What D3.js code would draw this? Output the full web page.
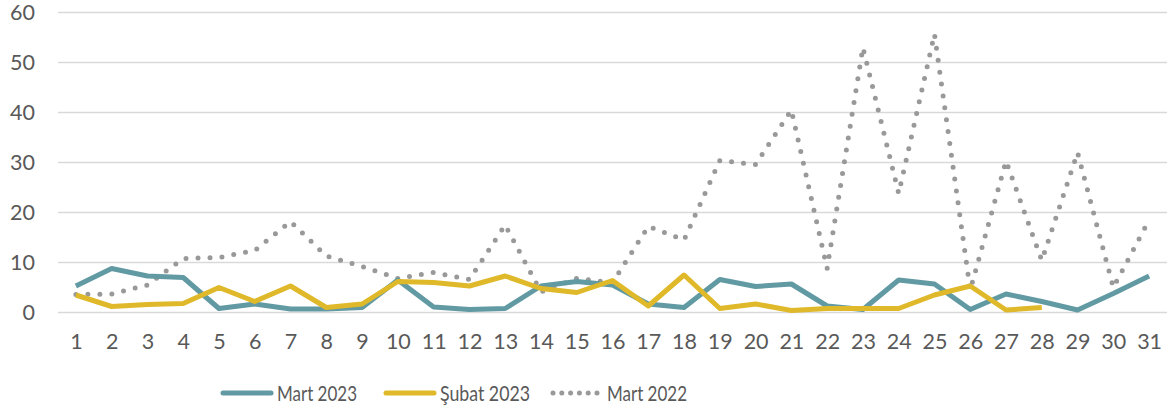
<!DOCTYPE html>
<html>
<head>
<meta charset="utf-8">
<script src="https://cdn.jsdelivr.net/npm/d3@7"></script>
<style>
  body { margin: 0; background: #fff; }
  text { font-family: Lato, "Open Sans", sans-serif; fill: #595959; }
</style>
</head>
<body>
<div id="chart"></div>
<script>
// days of the month
var days = d3.range(1, 32);
var yTicks = [0, 10, 20, 30, 40, 50, 60];

// series values
var mart2023 = [5.3, 8.8, 7.3, 7.0, 0.8, 1.7, 0.7, 0.7, 1.0, 6.5, 1.1, 0.6, 0.8, 5.3, 6.2, 5.5, 1.7, 1.0, 6.6, 5.2, 5.7, 1.3, 0.6, 6.5, 5.7, 0.6, 3.7, 2.2, 0.5, 3.8, 7.3];
var subat2023 = [3.5, 1.2, 1.6, 1.8, 5.0, 2.2, 5.3, 1.0, 1.7, 6.2, 6.0, 5.3, 7.3, 4.8, 4.0, 6.4, 1.3, 7.5, 0.8, 1.7, 0.4, 0.8, 0.8, 0.8, 3.5, 5.3, 0.5, 1.0, null, null, null];
var mart2022 = [3.6, 3.7, 5.5, 10.8, 11.0, 12.4, 18.2, 11.3, 9.2, 6.8, 8.0, 6.6, 17.5, 4.1, 6.8, 6.0, 17.2, 14.5, 30.4, 29.6, 40.5, 8.8, 53.0, 23.8, 55.7, 4.5, 30.3, 10.4, 32.0, 5.0, 18.5];

var seriesNames = ["Mart 2023", "Şubat 2023", "Mart 2022"];

var svgWidth = 1172, svgHeight = 416;
var margin = { top: 12.5, right: 5, bottom: 103.5, left: 58 };
var width = svgWidth - margin.left - margin.right;
var height = svgHeight - margin.top - margin.bottom;

var svg = d3.select("#chart").append("svg")
    .attr("width", svgWidth)
    .attr("height", svgHeight);

var chartGroup = svg.append("g")
    .attr("transform", `translate(${margin.left}, ${margin.top})`);

var x = d3.scalePoint().domain(days).range([0, width]).padding(0.5);
var y = d3.scaleLinear().domain([0, 60]).range([height, 0]);

// gridlines
chartGroup.append("g")
    .selectAll("line")
    .data(yTicks)
    .enter()
    .append("line")
    .attr("x1", 0)
    .attr("x2", width)
    .attr("y1", d => y(d))
    .attr("y2", d => y(d))
    .attr("stroke", "#d9d9d9")
    .attr("stroke-width", 1.3);

// y axis labels
var yAxis = chartGroup.append("g")
    .call(d3.axisLeft(y).tickValues(yTicks).tickSize(0).tickPadding(23));
yAxis.select(".domain").remove();
yAxis.selectAll("text")
    .attr("font-size", 21.5)
    .attr("font-family", null)
    .attr("fill", null);

// x axis labels
var xAxis = chartGroup.append("g")
    .attr("transform", `translate(0, ${height})`)
    .call(d3.axisBottom(x).tickSize(0).tickPadding(21));
xAxis.select(".domain").remove();
xAxis.selectAll("text")
    .attr("font-size", 21.5)
    .attr("font-family", null)
    .attr("fill", null);

var line = d3.line()
    .defined(d => d[1] != null)
    .x(d => x(d[0]))
    .y(d => y(d[1]));

function pairs(values) {
    return days.map((d, i) => [d, values[i]]);
}

// Mart 2022 dotted
chartGroup.append("path")
    .datum(pairs(mart2022))
    .attr("fill", "none")
    .attr("stroke", "#999999")
    .attr("stroke-width", 5)
    .attr("stroke-linecap", "round")
    .attr("stroke-dasharray", "0 12")
    .attr("d", line);

// Mart 2023
chartGroup.append("path")
    .datum(pairs(mart2023))
    .attr("fill", "none")
    .attr("stroke", "#629aa3")
    .attr("stroke-width", 5)
    .attr("stroke-linejoin", "round")
    .attr("d", line);

// Subat 2023
chartGroup.append("path")
    .datum(pairs(subat2023))
    .attr("fill", "none")
    .attr("stroke", "#dfb929")
    .attr("stroke-width", 5)
    .attr("stroke-linejoin", "round")
    .attr("d", line);

// legend
var legendItems = [
    { name: seriesNames[0], color: "#629aa3", x: 223, dash: null },
    { name: seriesNames[1], color: "#dfb929", x: 386, dash: null },
    { name: seriesNames[2], color: "#999999", x: 553, dash: "0 8.8" }
];
var legend = svg.append("g").attr("transform", "translate(0, 393)");
legendItems.forEach(function(item) {
    legend.append("line")
        .attr("x1", item.x)
        .attr("x2", item.x + 48)
        .attr("y1", 0)
        .attr("y2", 0)
        .attr("stroke", item.color)
        .attr("stroke-width", 5)
        .attr("stroke-linecap", "round")
        .attr("stroke-dasharray", item.dash);
    legend.append("text")
        .attr("x", item.x + 54)
        .attr("y", 0)
        .attr("dy", "0.35em")
        .attr("font-size", 21.5)
        .attr("textLength", item.name.length > 9 ? 90 : 80)
        .attr("lengthAdjust", "spacingAndGlyphs")
        .text(item.name);
});
</script>
</body>
</html>
